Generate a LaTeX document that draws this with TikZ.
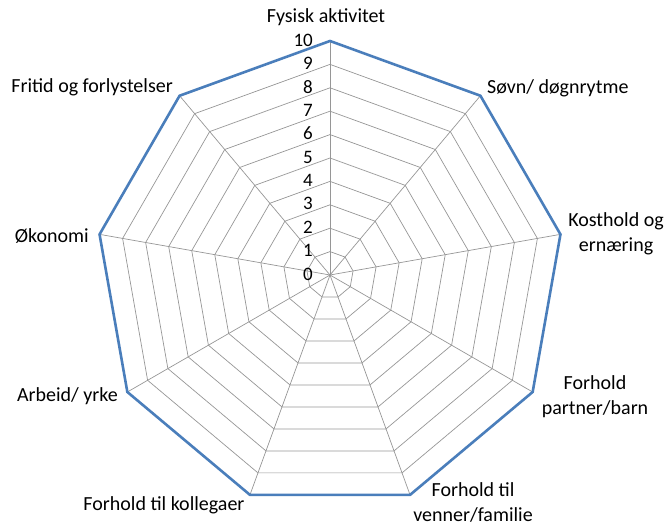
\documentclass[tikz,border=0pt]{standalone}
\usepackage{fontspec}
\setmainfont{Carlito}
\definecolor{serieblue}{RGB}{74,126,187}
\definecolor{gridgray}{RGB}{150,150,150}
\tikzset{
	gridline/.style={draw=gridgray,line width=0.7pt},
	outerline/.style={draw=serieblue,line width=2.6pt,line join=miter},
	axislabel/.style={inner sep=0pt,align=center,font=\fontsize{20}{25}\selectfont},
	ticklabel/.style={inner sep=0pt,anchor=east,font=\fontsize{19}{20}\selectfont}
}
\begin{document}
\begin{tikzpicture}[x=1pt,y=1pt]
\useasboundingbox (0,0) rectangle (668,526);
\begin{scope}[shift={(330,251)}]
\coordinate (c) at (0,0);
\foreach \k in {0,...,8}{
	\coordinate (v\k) at ({90-40*\k}:234);
}
% rings
\foreach \r in {1,...,9}{
	\draw[gridline] (90:\r*23.4) \foreach \k in {1,...,8}{ -- ({90-40*\k}:\r*23.4)} -- cycle;
}
\foreach \k in {0,...,8}{
	\draw[gridline] (c) -- (v\k);
}
\draw[outerline] (v0) -- (v1) -- (v2) -- (v3) -- (v4) -- (v5) -- (v6) -- (v7) -- (v8) -- cycle;
% scale
\foreach \i in {0,...,10}{
	\node[ticklabel] (t\i) at (-17,\i*23.4+1) {\i};
}
\end{scope}
\node[axislabel] (fysisk) at (326,509) {Fysisk aktivitet};
\node[axislabel,anchor=west] (sovn) at (487,438) {Søvn/ døgnrytme};
\node[axislabel] (kost) at (616,292) {Kosthold og\\ernæring};
\node[axislabel] (partner) at (595,129) {Forhold\\partner/barn};
\node[axislabel] (venner) at (473,24) {Forhold til\\venner/familie};
\node[axislabel] (kolleg) at (164,21) {Forhold til kollegaer};
\node[axislabel,anchor=east] (arbeid) at (118,130) {Arbeid/ yrke};
\node[axislabel,anchor=east] (okonomi) at (89,290) {Økonomi};
\node[axislabel,anchor=east] (fritid) at (173,439) {Fritid og forlystelser};
\end{tikzpicture}
\end{document}
